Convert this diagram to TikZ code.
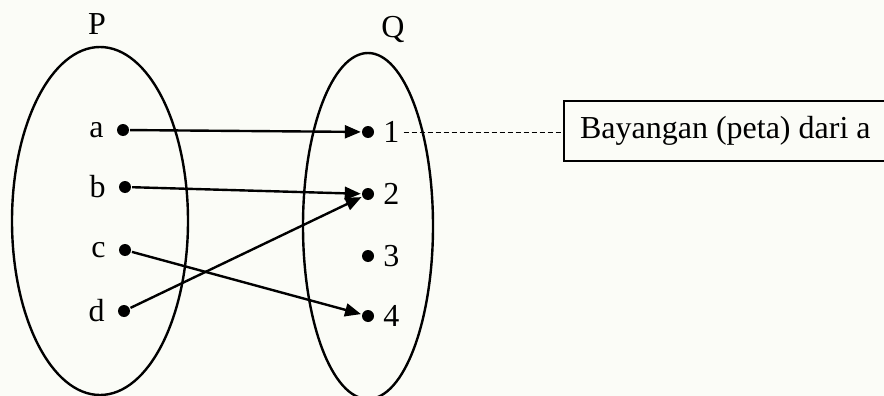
\documentclass[tikz,border=0pt]{standalone}
\usepackage{fontspec}
\setmainfont{Liberation Serif}
\usetikzlibrary{positioning,shapes.geometric,arrows.meta}
\definecolor{kertas}{RGB}{251,252,247}

\begin{document}
\begin{tikzpicture}[x=1pt, y=-1pt, line width=2.4pt, >={Triangle[length=16pt,width=13pt]},
	every node/.style={font=\fontsize{32}{38}\selectfont},
	himpunan/.style={draw, ellipse, inner sep=0pt},
	titik/.style={circle, fill, inner sep=0pt, minimum size=12pt},
	lbl/.style={inner sep=0pt},
	kotak/.style={draw, line width=1.6pt, inner sep=0pt, minimum width=323pt, minimum height=60pt}]
	% latar
	\fill[kertas] (0,0) rectangle (884,396);
	\useasboundingbox (0,0) rectangle (884,396);
	
	% himpunan P dan Q
	\node[himpunan, minimum width=176pt, minimum height=348pt] (P) at (100,221) {};
	\node[himpunan, minimum width=130pt, minimum height=346pt] (Q) at (368,226) {};
	\node[lbl] (namaP) at (97,24) {P};
	\node[lbl] (namaQ) at (393,30) {Q};
	
	% anggota P
	\node[titik] (a) at (123,130) {};
	\node[titik] (b) at (125,187) {};
	\node[titik] (c) at (125,250) {};
	\node[titik] (d) at (124,311) {};
	\node[lbl, left=11pt of a] (la) {a};
	\node[lbl, left=11pt of b] (lb) {b};
	\node[lbl, left=11pt of c] (lc) {c};
	\node[lbl, left=11pt of d] (ld) {d};
	
	% anggota Q
	\node[titik] (q1) at (368,132) {};
	\node[titik] (q2) at (368,194) {};
	\node[titik] (q3) at (368,256) {};
	\node[titik] (q4) at (368,316) {};
	\node[lbl, right=7pt of q1] (l1) {1};
	\node[lbl, right=7pt of q2] (l2) {2};
	\node[lbl, right=7pt of q3] (l3) {3};
	\node[lbl, right=7pt of q4] (l4) {4};
	
	% pemetaan
	\draw[->] (a) -- (q1);
	\draw[->] (b) -- (q2);
	\draw[->] (d) -- (q2);
	\draw[->] (c) -- (q4);
	
	% keterangan
	\node[kotak, anchor=west] (ket) at (563,131) {Bayangan (peta) dari a};
	\draw[line width=0.9pt, dash pattern=on 5pt off 3pt] (l1.east) ++(3pt,0) -- (l1.east -| ket.west);
\end{tikzpicture}
\end{document}
